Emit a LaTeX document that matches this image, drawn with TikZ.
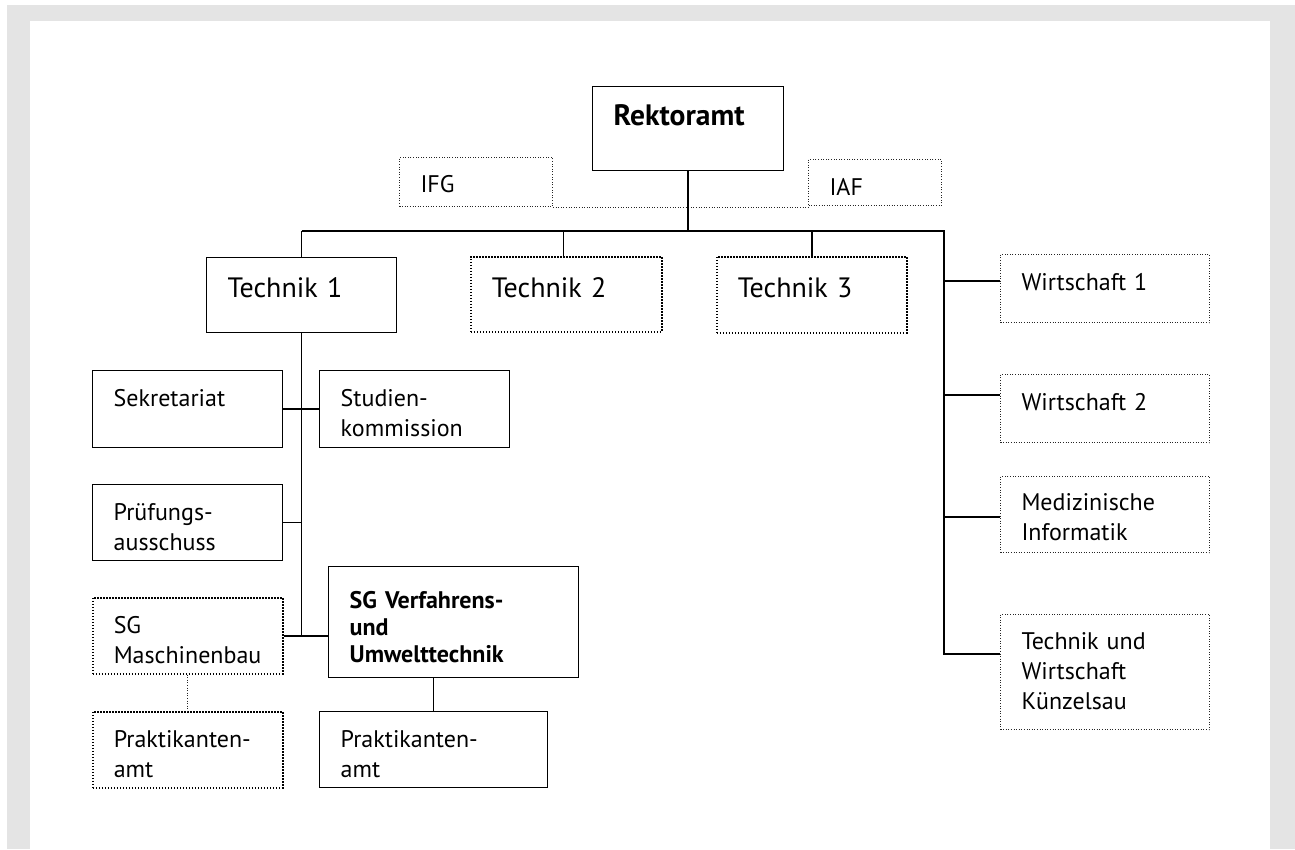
\documentclass[tikz,border=0pt]{standalone}
\usepackage{fontspec}
\setmainfont{PT Sans}
\usetikzlibrary{calc}

\definecolor{framegray}{HTML}{E4E4E4}

\tikzset{
  % box of width #1, height #2, first baseline #3 below the top edge
  boxsize/.code n args={3}{%
    \pgfmathsetmacro\orgTW{#1-42}%
    \pgfmathsetmacro\orgTD{#2-#3}%
    \edef\orgSet{\noexpand\tikzset{text width=\orgTW pt,
        text height=#3pt, text depth=\orgTD pt}}%
    \orgSet},
  orgbox/.style={draw=black, line width=1.4pt, anchor=north west,
    inner xsep=21pt, inner ysep=0pt, align=left},
  darkdots/.style={orgbox, line width=1.5pt, dash pattern=on 1.5pt off 1.5pt},
  lightdots/.style={orgbox, draw=black!85, line width=1pt, dash pattern=on 1pt off 1.6pt},
  smalltext/.style={font=\fontsize{24}{30}\selectfont},
  largetext/.style={font=\fontsize{28}{34}\selectfont},
  conn/.style={draw=black, line width=1.5pt},
  dotconn/.style={draw=black!85, line width=1pt, dash pattern=on 1pt off 1.6pt},
}

\begin{document}
\begin{tikzpicture}[x=1pt,y=-1pt]
  \useasboundingbox (0,0) rectangle (1295,849);
  % page frame
  \fill[white] (0,0) rectangle (1295,849);
  \fill[framegray] (7,5) rectangle (1295,849);
  \fill[white] (30,21) rectangle (1270,849);

  % top level
  \node[orgbox, font=\fontsize{29.5}{34}\selectfont\bfseries, boxsize={191}{84}{39}] (rek) at (592,86) {Rektoramt};
  \node[lightdots, smalltext, boxsize={153}{49}{35}] (ifg) at (399,157) {IFG};
  \node[lightdots, smalltext, boxsize={133}{46}{36}] (iaf) at (808,159) {IAF};

  % faculties
  \node[orgbox, largetext, boxsize={190}{75}{40}] (t1) at (206,257) {Technik 1};
  \node[darkdots, largetext, boxsize={191}{75}{41}] (t2) at (470,256) {Technik 2};
  \node[darkdots, largetext, boxsize={190}{76}{41}] (t3) at (716,256) {Technik 3};

  \node[lightdots, smalltext, boxsize={209}{68}{36}] (w1) at (1000,254) {Wirtschaft 1};
  \node[lightdots, smalltext, boxsize={209}{68}{36}] (w2) at (1000,374) {Wirtschaft 2};
  \node[lightdots, smalltext, boxsize={209}{76}{34}] (mi) at (1000,476) {Medizinische\\Informatik};
  \node[lightdots, smalltext, boxsize={209}{115}{35}] (tuw) at (1000,614) {Technik und\\Wirtschaft\\Künzelsau};

  % units of Technik 1
  \node[orgbox, smalltext, boxsize={190}{77}{36}] (sek) at (92,370) {Sekretariat};
  \node[orgbox, smalltext, boxsize={190}{77}{36}] (stk) at (319,370) {Studien-\\kommission};
  \node[orgbox, smalltext, boxsize={190}{76}{36}] (pa) at (92,484) {Prüfungs-\\ausschuss};
  \node[darkdots, smalltext, boxsize={190}{76}{36}] (sgm) at (92,597) {SG\\Maschinenbau};
  \node[orgbox, font=\fontsize{24}{27}\selectfont\bfseries, boxsize={250}{111}{42}] (sgvu) at (328,566)
    {SG Verfahrens-\\und\\Umwelttechnik};
  \node[darkdots, smalltext, boxsize={190}{76}{36}] (prm) at (92,711) {Praktikanten-\\amt};
  \node[orgbox, smalltext, boxsize={228}{76}{36}] (prs) at (319,711) {Praktikanten-\\amt};

  % connectors
  \coordinate (bus) at (0,231);
  \coordinate (spine) at (944,0);
  \draw[dotconn] (ifg.south east) -- (ifg.south east -| iaf.west);
  \draw[conn] (rek.south) -- (rek.south |- bus);
  \draw[conn] (t1.north |- bus) -- (spine |- bus)
    -- (spine |- {$(tuw.north west)+(0,40)$}) -- ($(tuw.north west)+(0,40)$);
  \draw[conn] (t1.north) -- (t1.north |- bus);
  \draw[conn] ([xshift=-3pt]t2.north) -- ([xshift=-3pt]t2.north |- bus);
  \draw[conn] (t3.north) -- (t3.north |- bus);
  \draw[conn] ($(w1.north west)+(0,27)$) -- (spine |- {$(w1.north west)+(0,27)$});
  \draw[conn] ($(w2.north west)+(0,21)$) -- (spine |- {$(w2.north west)+(0,21)$});
  \draw[conn] ($(mi.north west)+(0,41)$) -- (spine |- {$(mi.north west)+(0,41)$});

  \draw[conn] (t1.south) -- (t1.south |- sgm.east);
  \draw[conn] (sek.east) -- (stk.west);
  \draw[conn] (pa.east) -- (pa.east -| t1.south);
  \draw[conn] (sgm.east) -- (sgm.east -| sgvu.west);
  \draw[dotconn] (sgm.south) -- (prm.north);
  \draw[conn] (prs.north) -- (prs.north |- sgvu.south);
\end{tikzpicture}
\end{document}
